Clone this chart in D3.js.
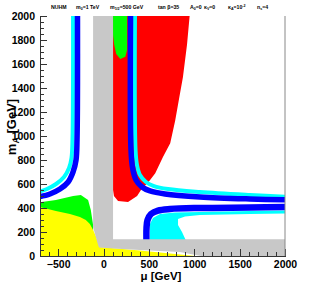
<!DOCTYPE html>
<head>
  <meta charset="utf-8">
  <style>
    body { margin: 0; background: #fff; }
    svg text { font-family: "Liberation Sans", Arial, sans-serif; font-weight: bold; }
    .axis path, .axis line { stroke: #333; shape-rendering: crispEdges; }
    .axis text { font-size: 10.5px; fill: #000; }
  </style>
</head>
<body>
  <svg width="330" height="284"></svg>
  <script src="https://d3js.org/d3.v7.min.js"></script>
  <script>

  // tick labels
  var muTicks = [-500, 0, 500, 1000, 1500, 2000];
  var mATicks = [0, 200, 400, 600, 800, 1000, 1200, 1400, 1600, 1800, 2000];

  // regions, [mu, mA] in GeV
  var red = [[105,2050],[955,2050],[920,1760],[875,1490],[830,1300],[790,1130],[735,940],[655,825],
             [570,690],[490,610],[425,565],[370,500],[270,450],[160,458],[115,500],[105,550]];
  var greenTop = [[105,2050],[260,2050],[260,1717],[240,1660],[185,1642],[140,1683],[118,1758],[105,1842]];
  var greenLow = [[-750,442],[-525,467],[-335,500],[-250,508],[-170,467],[-140,383],[-115,258],[-115,150],[-750,150]];
  var yellow = [[-750,417],[-525,375],[-370,350],[-260,325],[-195,300],[-150,267],[-115,217],[-85,167],
                [-60,117],[-40,75],[400,45],[1150,-10],[-750,-10]];
  var gray = [[-115,2050],[105,2050],[105,140],[2050,140],[2050,-10],[1150,-10],[840,33],[400,50],
              [105,62],[-50,70],[-60,92],[-115,240]];
  var cyanLow = [[512,117],[512,267],[545,317],[623,350],[788,362],[1063,367],[1614,375],[2055,379],
                 [2055,354],[1614,350],[1063,342],[898,329],[821,308],[821,258],[865,200],[931,92]];

  // WMAP-like strips (centre lines)
  var cyanL = [[-336,2050],[-342,970],[-353,817],[-380,733],[-435,658],[-523,600],[-623,558],[-720,533]];
  var blueL = [[-287,2050],[-292,970],[-303,800],[-336,700],[-390,617],[-480,558],[-590,517],[-720,492]];
  var cyanU = [[347,2050],[353,880],[369,758],[402,675],[468,617],[556,583],[711,558],[1063,533],[1614,508],[2055,492]];
  var blueU = [[298,2050],[303,880],[320,735],[358,633],[424,575],[512,542],[678,517],[1063,492],[1614,475],[2055,467]];
  var blueLow = [[474,100],[474,233],[485,300],[523,350],[600,379],[733,392],[1063,400],[1614,404],[2055,408]];

  var svg = d3.select("svg"),
      padL = 40, padR = 285, padT = 16, padB = 256;

  var x = d3.scaleLinear().domain([-700, 2000]).range([padL, padR]);
  var y = d3.scaleLinear().domain([0, 2000]).range([padB, padT]);

  svg.append("defs").append("clipPath").attr("id", "plot")
    .append("rect").attr("x", padL).attr("y", padT).attr("width", padR - padL).attr("height", padB - padT);

  var g = svg.append("g").attr("clip-path", "url(#plot)");

  var area = d3.line().x(d => x(d[0])).y(d => y(d[1])).curve(d3.curveLinearClosed);
  var strip = d3.line().x(d => x(d[0])).y(d => y(d[1])).curve(d3.curveCatmullRom);

  function fill(pts, col) {
    g.append("path").attr("d", area(pts)).attr("fill", col);
  }
  function band(pts, col, w) {
    g.append("path").attr("d", strip(pts)).attr("fill", "none")
      .attr("stroke", col).attr("stroke-width", w).attr("stroke-linejoin", "round");
  }

  fill(red, "#ff0000");
  fill(greenTop, "#00ff00");
  band(cyanU, "#00ffff", 4);
  band(blueU, "#0000ff", 5.5);
  band(cyanL, "#00ffff", 4);
  band(blueL, "#0000ff", 5.5);
  fill(cyanLow, "#00ffff");
  band(blueLow, "#0000ff", 6.5);
  fill(greenLow, "#00ff00");
  fill(yellow, "#ffff00");
  fill(gray, "#c8c8c8");

  // axes, ticks pointing inwards
  var xMinor = d3.range(-700, 2001, 100), yMinor = d3.range(0, 2001, 50);
  var fmt = d3.format("d");

  svg.append("g").attr("class", "axis").attr("transform", "translate(0," + padB + ")")
    .call(d3.axisBottom(x).tickValues(xMinor).tickSizeInner(-4).tickSizeOuter(0).tickFormat(""));
  svg.append("g").attr("class", "axis").attr("transform", "translate(0," + padB + ")")
    .call(d3.axisBottom(x).tickValues(muTicks).tickSizeInner(-7).tickSizeOuter(0).tickPadding(5).tickFormat(fmt))
    .select(".domain").remove();

  svg.append("g").attr("class", "axis").attr("transform", "translate(" + padL + ",0)")
    .call(d3.axisLeft(y).tickValues(yMinor).tickSizeInner(-4).tickSizeOuter(0).tickFormat(""));
  svg.append("g").attr("class", "axis").attr("transform", "translate(" + padL + ",0)")
    .call(d3.axisLeft(y).tickValues(mATicks).tickSizeInner(-7).tickSizeOuter(0).tickPadding(5).tickFormat(fmt))
    .select(".domain").remove();

  svg.append("line").attr("x1", padR).attr("x2", padR).attr("y1", padT).attr("y2", padB)
    .attr("stroke", "#888");

  // axis titles
  svg.append("text").attr("x", 161).attr("y", 280).attr("text-anchor", "middle")
    .attr("font-size", 11.5).text("\u03bc [GeV]");

  var yt = svg.append("text").attr("transform", "translate(16,127) rotate(-90)")
    .attr("text-anchor", "middle").attr("font-size", 13);
  yt.append("tspan").text("m");
  yt.append("tspan").attr("font-size", 9).attr("dy", 3).text("A");
  yt.append("tspan").attr("dy", -3).text(" [GeV]");

  // header
  var header = [
    ["NUHM"],
    ["m", "0", "=1 TeV"],
    ["m", "1/2", "=500 GeV"],
    ["tan \u03b2=35"],
    ["A", "0", "=0"],
    ["\u03ba", "V", "=0"],
    ["\u03ba", "A", "=10", "-2"],
    ["n", "s", "=4"]
  ];
  var headerX = [51, 76, 110, 158, 190, 204, 228, 257];

  header.forEach(function(parts, i) {
    var t = svg.append("text").attr("x", headerX[i]).attr("y", 9).attr("font-size", 5.2);
    parts.forEach(function(p, j) {
      var s = t.append("tspan").text(p);
      if (j === 1) s.attr("font-size", 3.6).attr("dy", 1.2);
      if (j === 2) s.attr("dy", -1.2);
      if (j === 3) s.attr("font-size", 3.6).attr("dy", -2);
    });
  });

  </script>
</body>
</html>
